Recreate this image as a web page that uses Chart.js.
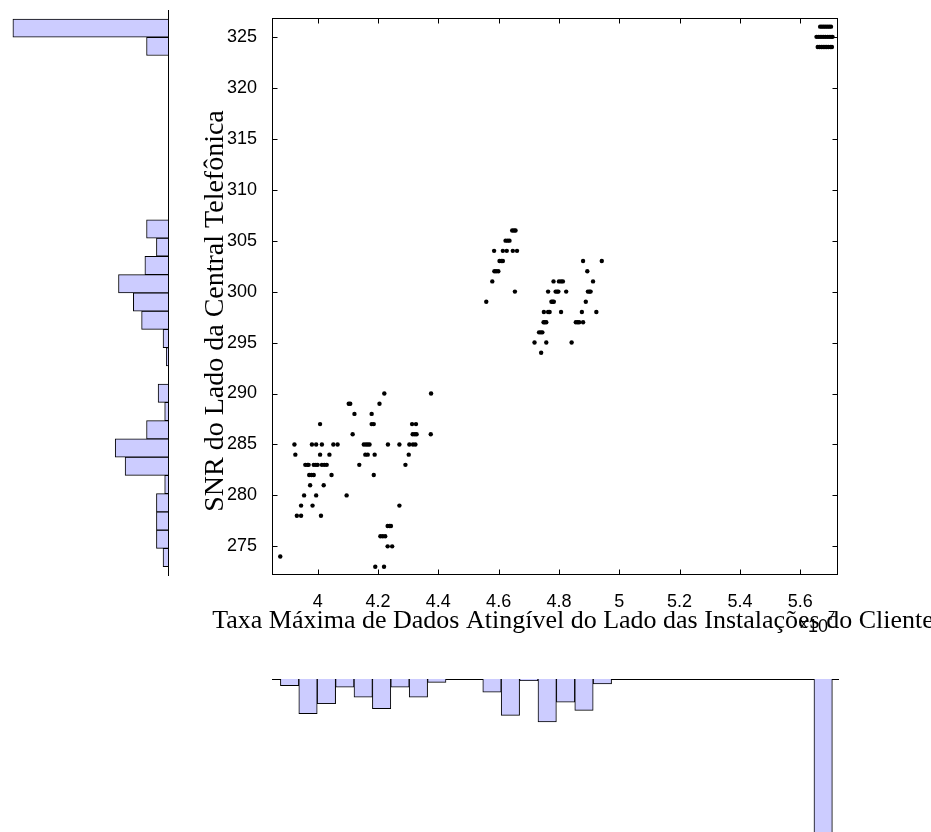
<!DOCTYPE html>
<html><head><meta charset="utf-8">
<script src="https://cdn.jsdelivr.net/npm/chart.js@4.4.0/dist/chart.umd.min.js"></script>
<style>
html,body{margin:0;padding:0;background:#fff;width:931px;height:832px;overflow:hidden;}
canvas{position:absolute;}
</style></head><body>
<canvas id="main" width="931" height="660" style="left:0;top:0"></canvas>
<canvas id="histY" width="170" height="600" style="left:0;top:0"></canvas>
<canvas id="histX" width="931" height="154" style="left:0;top:678px"></canvas>
<script>
// ---------------- data (x values in units of 10^7) ----------------
const xExponent = 7;
const xTickValues = [4, 4.2, 4.4, 4.6, 4.8, 5, 5.2, 5.4, 5.6];
const yTickValues = [275, 280, 285, 290, 295, 300, 305, 310, 315, 320, 325];
const xLimits = [3.8486, 5.7252];
const yLimits = [272.19, 326.87];

const xTitle = 'Taxa Máxima de Dados Atingível do Lado das Instalações do Cliente';
const yTitle = 'SNR do Lado da Central Telefônica';

// SNR levels and the data rates observed at each level
const snrLevels = [326, 325, 324,
  306, 305, 304, 303, 302, 301, 300, 299, 298, 297, 296, 295, 294,
  290, 289, 288, 287, 286, 285, 284, 283, 282, 281, 280, 279, 278, 277, 276, 275, 274, 273];
const ratesAtLevel = [
  [5.666, 5.672, 5.678, 5.684, 5.690, 5.696, 5.702],
  [5.654, 5.660, 5.666, 5.672, 5.678, 5.684, 5.690, 5.696, 5.702, 5.707],
  [5.658, 5.664, 5.670, 5.676, 5.682, 5.688, 5.694, 5.700, 5.705],
  [4.645, 4.651, 4.656],
  [4.623, 4.630, 4.636],
  [4.585, 4.614, 4.627, 4.647, 4.661],
  [4.603, 4.609, 4.614, 4.880, 4.942],
  [4.586, 4.592, 4.599, 4.894],
  [4.579, 4.782, 4.800, 4.807, 4.813, 4.913],
  [4.654, 4.764, 4.789, 4.794, 4.798, 4.824, 4.896, 4.901, 4.905],
  [4.559, 4.775, 4.779, 4.783, 4.889],
  [4.750, 4.764, 4.769, 4.807, 4.876, 4.924],
  [4.749, 4.753, 4.758, 4.856, 4.862, 4.867, 4.880],
  [4.734, 4.740, 4.745],
  [4.719, 4.758, 4.842],
  [4.741],
  [4.221, 4.376],
  [4.103, 4.108, 4.205],
  [4.122, 4.179],
  [4.008, 4.179, 4.186, 4.313, 4.326],
  [4.116, 4.315, 4.322, 4.328, 4.375],
  [3.923, 3.981, 3.995, 4.014, 4.052, 4.066, 4.153, 4.160, 4.166, 4.172, 4.233, 4.271, 4.304, 4.316, 4.324],
  [3.926, 4.008, 4.039, 4.158, 4.166, 4.189, 4.302],
  [3.959, 3.966, 3.970, 3.987, 3.994, 4.000, 4.014, 4.022, 4.030, 4.138, 4.291],
  [3.972, 3.980, 3.987, 4.046, 4.186],
  [3.975, 4.020],
  [3.955, 3.995, 4.096],
  [3.945, 3.983, 4.271],
  [3.931, 3.945, 4.011],
  [4.232, 4.238, 4.243],
  [4.208, 4.216, 4.224],
  [4.232, 4.247],
  [3.876],
  [4.191, 4.220]
];

// marginal histogram of the data rate (bottom)
const xBinCenters = [3.907, 3.968, 4.029, 4.090, 4.151, 4.212, 4.273, 4.334, 4.395, 4.456,
  4.517, 4.578, 4.639, 4.700, 4.761, 4.822, 4.883, 4.944, 5.005, 5.066,
  5.127, 5.188, 5.249, 5.310, 5.371, 5.432, 5.493, 5.554, 5.615, 5.676];
const xBinCounts = [4, 21, 15, 5, 11, 18, 5, 11, 2, 0,
  0, 8, 22, 1, 26, 14, 19, 3, 0, 0,
  0, 0, 0, 0, 0, 0, 0, 0, 0, 120];

// marginal histogram of the SNR (left)
const yBinCenters = [273.883, 275.650, 277.417, 279.183, 280.950, 282.717, 284.483, 286.250, 288.017, 289.783,
  291.550, 293.317, 295.083, 296.850, 298.617, 300.383, 302.150, 303.917, 305.683, 307.450,
  309.217, 310.983, 312.750, 314.517, 316.283, 318.050, 319.817, 321.583, 323.350, 325.117];
const yBinCounts = [3, 7, 7, 7, 2, 26, 32, 13, 2, 6,
  0, 1, 3, 16, 21, 30, 14, 7, 13, 0,
  0, 0, 0, 0, 0, 0, 0, 0, 13, 94];

// ---------------- charts ----------------
Chart.defaults.color = '#000';
Chart.defaults.font.family = '"Liberation Sans", Arial, sans-serif';
Chart.defaults.animation = false;

const points = [];
snrLevels.forEach((s, i) => ratesAtLevel[i].forEach(r => points.push({x: r, y: s})));

const PLOT_LEFT = 272, PLOT_RIGHT_PAD = 93, PLOT_TOP = 10, PLOT_BOTTOM = 575;
const barFill = 'rgb(204,204,255)';
const serif = '"Liberation Serif", "Times New Roman", serif';

const boxTicks = {
  id: 'boxTicks',
  afterDatasetsDraw(chart) {
    const {ctx, chartArea: a, scales: {x, y}} = chart;
    ctx.save();
    ctx.strokeStyle = '#000';
    ctx.lineWidth = 1;
    const L = Math.round(a.left) + 0.5, R = Math.round(a.right) - 0.5;
    const T = Math.round(a.top) + 0.5, B = Math.round(a.bottom) - 0.5;
    ctx.strokeRect(L, T, R - L, B - T);
    ctx.beginPath();
    x.ticks.forEach(t => {
      const p = Math.round(x.getPixelForValue(t.value)) + 0.5;
      ctx.moveTo(p, B); ctx.lineTo(p, B - 5);
      ctx.moveTo(p, T); ctx.lineTo(p, T + 5);
    });
    y.ticks.forEach(t => {
      const p = Math.round(y.getPixelForValue(t.value)) + 0.5;
      ctx.moveTo(L, p); ctx.lineTo(L + 5, p);
      ctx.moveTo(R, p); ctx.lineTo(R - 5, p);
    });
    ctx.stroke();

    // axis titles
    ctx.fillStyle = '#000';
    ctx.textBaseline = 'alphabetic';
    ctx.textAlign = 'center';
    ctx.font = '26px ' + serif;
    ctx.fillText(xTitle, 573, 628);
    ctx.save();
    ctx.translate(223, 311);
    ctx.rotate(-Math.PI / 2);
    ctx.font = '28px ' + serif;
    ctx.fillText(yTitle, 0, 0);
    ctx.restore();

    // exponent label of the x axis
    ctx.textAlign = 'left';
    const ex = x.right - 38;
    ctx.font = '15px "Liberation Sans"';
    ctx.fillText('x', ex, 628);
    ctx.font = '18px "Liberation Sans"';
    ctx.fillText('10', ex + 8, 632);
    ctx.font = '13px "Liberation Sans"';
    ctx.fillText(String(xExponent), ex + 28, 620);
    ctx.restore();
  }
};

new Chart(document.getElementById('main'), {
  type: 'scatter',
  data: {datasets: [{
    data: points,
    pointRadius: 2.2,
    pointBorderWidth: 0,
    pointBackgroundColor: '#000',
    pointBorderColor: '#000'
  }]},
  options: {
    responsive: false,
    devicePixelRatio: 1,
    layout: {padding: {left: 0, right: PLOT_RIGHT_PAD, top: PLOT_TOP, bottom: 0}},
    plugins: {legend: {display: false}, tooltip: {enabled: false}},
    scales: {
      x: {
        type: 'linear', position: 'bottom', min: xLimits[0], max: xLimits[1],
        afterBuildTicks: s => { s.ticks = xTickValues.map(v => ({value: v})); },
        afterFit: s => { s.height = 660 - PLOT_BOTTOM; },
        grid: {display: false}, border: {display: false},
        ticks: {font: {size: 18}, padding: 8, maxRotation: 0, autoSkip: false,
          callback: v => String(+v.toFixed(1))}
      },
      y: {
        type: 'linear', position: 'left', min: yLimits[0], max: yLimits[1],
        afterBuildTicks: s => { s.ticks = yTickValues.map(v => ({value: v})); },
        afterFit: s => { s.width = PLOT_LEFT; },
        grid: {display: false}, border: {display: false},
        ticks: {font: {size: 18}, padding: 7, autoSkip: false}
      }
    }
  },
  plugins: [boxTicks]
});

// left histogram (horizontal bars growing to the left)
new Chart(document.getElementById('histY'), {
  type: 'bar',
  data: {datasets: [{
    data: yBinCenters.map((c, i) => ({y: c, x: yBinCounts[i]})),
    backgroundColor: barFill, borderColor: '#000', borderWidth: 1,
    barPercentage: 1, categoryPercentage: 1
  }]},
  options: {
    indexAxis: 'y',
    responsive: false, devicePixelRatio: 1,
    layout: {padding: {left: 0, right: 2, top: PLOT_TOP, bottom: 600 - PLOT_BOTTOM}},
    plugins: {legend: {display: false}, tooltip: {enabled: false}},
    scales: {
      x: {type: 'linear', reverse: true, min: 0, max: 168 / 1.65, display: false},
      y: {
        type: 'linear', position: 'right', min: yLimits[0], max: yLimits[1], offset: false,
        afterBuildTicks: s => { s.ticks = yTickValues.map(v => ({value: v})); },
        afterFit: s => { s.width = 0; },
        grid: {display: false, drawTicks: false},
        ticks: {display: false},
        border: {display: true, color: '#000', width: 1}
      }
    }
  }
});

// bottom histogram (vertical bars hanging down)
new Chart(document.getElementById('histX'), {
  type: 'bar',
  data: {datasets: [{
    data: xBinCenters.map((c, i) => ({x: c, y: xBinCounts[i]})),
    backgroundColor: barFill, borderColor: '#000', borderWidth: 1,
    barPercentage: 1, categoryPercentage: 1
  }]},
  options: {
    responsive: false, devicePixelRatio: 1,
    layout: {padding: {left: PLOT_LEFT, right: PLOT_RIGHT_PAD, top: 1, bottom: 0}},
    plugins: {legend: {display: false}, tooltip: {enabled: false}},
    scales: {
      x: {
        type: 'linear', position: 'top', min: xLimits[0], max: xLimits[1], offset: false,
        afterBuildTicks: s => { s.ticks = xTickValues.map(v => ({value: v})); },
        afterFit: s => { s.height = 0; },
        grid: {display: false, drawTicks: false},
        ticks: {display: false},
        border: {display: true, color: '#000', width: 1}
      },
      y: {type: 'linear', reverse: true, min: 0, max: 153 / 1.65, display: false}
    }
  }
});
</script>
</body></html>
